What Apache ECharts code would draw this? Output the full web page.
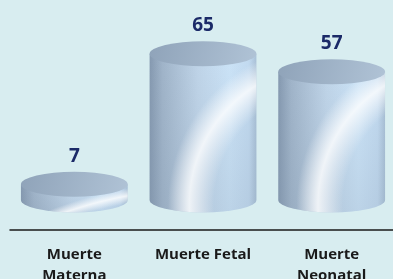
<!DOCTYPE html>
<html><head><meta charset="utf-8">
<script src="https://cdn.jsdelivr.net/npm/echarts@6/dist/echarts.min.js"></script>
<style>html,body{margin:0;padding:0;background:#d8edf0;}#c{width:393px;height:279px;}</style>
</head><body><div id="c"></div>
<script>
const categories = ['Muerte\nMaterna', 'Muerte Fetal', 'Muerte\nNeonatal'];
const values = [7, 65, 57];

const chart = echarts.init(document.getElementById('c'));
function renderItem(params, api) {
  const idx = api.value(0), v = api.value(1);
  const top = api.coord([idx, v]);
  const bot = api.coord([idx, 0]);
  const w = api.size([1, 0])[0];
  const rx = w * 0.415, ry = 12.5;
  const cx = top[0], x0 = cx - rx, x1 = cx + rx, yt = top[1], yb = bot[1];
  const bodyPath = 'M' + x0 + ',' + yt + ' L' + x0 + ',' + yb + ' A' + rx + ',' + ry + ' 0 0 0 ' + x1 + ',' + yb + ' L' + x1 + ',' + yt + ' Z';
  const h = yb - yt;
  const topPath = 'M' + x0 + ',' + yt + ' A' + rx + ',' + ry + ' 0 1 0 ' + x1 + ',' + yt + ' A' + rx + ',' + ry + ' 0 1 0 ' + x0 + ',' + yt + ' Z';
  const bodyFill = new echarts.graphic.LinearGradient(0, 0, 1, 0, [
    {offset: 0, color: '#8599b0'},
    {offset: 0.12, color: '#a0b4c9'},
    {offset: 0.45, color: '#bfd4e8'},
    {offset: 0.75, color: '#cbe3f7'},
    {offset: 0.93, color: '#c2daf0'},
    {offset: 1, color: '#a9c0d6'}
  ]);
  let hcx, hcy, hr, stops;
  if (h > 60) {
    hcx = x0 + 180; hcy = yb + 5; hr = 165;
    stops = [
      {offset: 0, color: 'rgba(255,255,255,0)'},
      {offset: 0.7, color: 'rgba(255,255,255,0)'},
      {offset: 0.85, color: 'rgba(255,255,255,0.8)'},
      {offset: 0.98, color: 'rgba(255,255,255,0)'},
      {offset: 1, color: 'rgba(255,255,255,0)'}
    ];
  } else {
    hcx = x0 + 180; hcy = yb + 400; hr = 420;
    stops = [
      {offset: 0, color: 'rgba(255,255,255,0)'},
      {offset: 0.96, color: 'rgba(255,255,255,0)'},
      {offset: 0.978, color: 'rgba(255,255,255,0.8)'},
      {offset: 0.996, color: 'rgba(255,255,255,0)'},
      {offset: 1, color: 'rgba(255,255,255,0)'}
    ];
  }
  const hl = {type: 'radial', x: hcx, y: hcy, r: hr, global: true, colorStops: stops};
  const shade = new echarts.graphic.LinearGradient(0, 0, 0, 1, [
    {offset: 0, color: 'rgba(120,140,160,0)'},
    {offset: 1, color: 'rgba(120,140,160,0.18)'}
  ]);
  const topFill = new echarts.graphic.LinearGradient(0, 0, 1, 1, [
    {offset: 0, color: '#8fa3b9'},
    {offset: 1, color: '#b0c3d6'}
  ]);
  return {
    type: 'group',
    children: [
      {type: 'path', shape: {pathData: bodyPath}, style: {fill: bodyFill}},
      {type: 'path', shape: {pathData: bodyPath}, style: {fill: shade}},
      {type: 'path', shape: {pathData: bodyPath}, style: {fill: hl}},
      {type: 'path', shape: {pathData: topPath}, style: {fill: topFill}},
      {type: 'text', x: cx, y: yt - 28, style: {text: String(v), fill: '#1b2a68', font: 'bold 19px "Open Sans"', align: 'center', verticalAlign: 'middle'}}
    ]
  };
}
chart.setOption({
  backgroundColor: '#d8edf0',
  animation: false,
  grid: {left: 10, right: -3, top: 20, bottom: 79, outerBoundsMode: 'none', containLabel: false},
  xAxis: {
    type: 'category', data: categories, offset: 30,
    axisLine: {onZero: false, lineStyle: {color: '#1a1a1a', width: 1.5}},
    axisTick: {show: false},
    axisLabel: {margin: 14, color: '#1a1a1a', fontFamily: 'Open Sans', fontWeight: 'bold', fontSize: 15, lineHeight: 21, interval: 0, hideOverlap: false}
  },
  yAxis: {type: 'value', min: 0, max: 80, show: false, splitLine: {show: false}},
  series: [{type: 'custom', renderItem: renderItem, data: values.map((v, i) => [i, v]), clip: false}]
});
</script></body></html>
